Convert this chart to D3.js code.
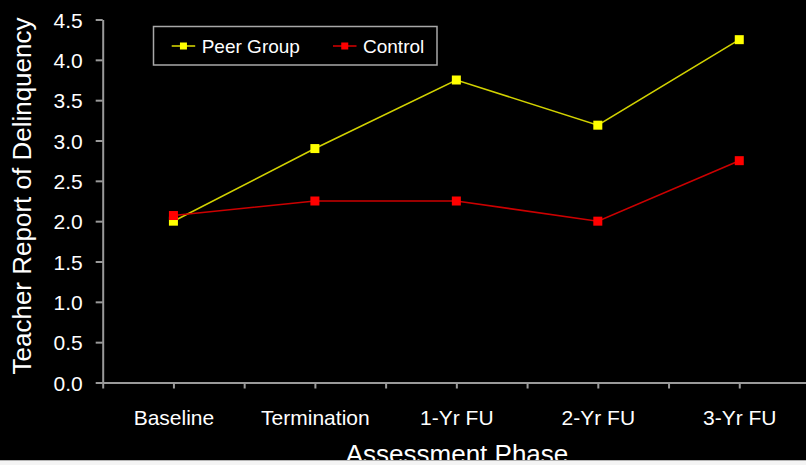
<!DOCTYPE html>
<html>
<head>
<meta charset="utf-8">
<script src="https://cdn.jsdelivr.net/npm/d3@7"></script>
<style>
  html, body { margin: 0; padding: 0; background: #000; }
  svg { display: block; font-family: Arial, "Liberation Sans", sans-serif; }
</style>
</head>
<body>
<svg id="chart"></svg>
<script>
const phases = ['Baseline', 'Termination', '1-Yr FU', '2-Yr FU', '3-Yr FU'];
const peerGroup = [2.0, 2.9, 3.75, 3.19, 4.25];
const control = [2.07, 2.25, 2.25, 2.0, 2.75];
const yTicks = [0, 0.5, 1, 1.5, 2, 2.5, 3, 3.5, 4, 4.5];
const seriesNames = ['Peer Group', 'Control'];

const width = 806, height = 465;
const margin = {top: 19.5, left: 102.7, bottom: 382.5, right: 810};

const svg = d3.select('#chart')
    .attr('width', width)
    .attr('height', height);

svg.append('rect')
    .attr('width', width)
    .attr('height', height)
    .attr('fill', '#000');

// x positions: index scale so ticks can sit at centres and between categories
const xScale = d3.scaleLinear()
    .domain([-0.5, phases.length - 0.5])
    .range([margin.left, margin.right]);

const yScale = d3.scaleLinear()
    .domain([0, 4.5])
    .range([margin.bottom, margin.top]);

const xTickVals = d3.range(-0.5, phases.length, 0.5);

const xAxisG = svg.append('g')
    .attr('transform', `translate(0,${margin.bottom})`)
    .call(d3.axisBottom(xScale)
      .tickValues(xTickVals)
      .tickSize(6)
      .tickSizeOuter(0)
      .tickFormat(d => Number.isInteger(d) ? phases[d] : ''));

xAxisG.selectAll('.domain, .tick line')
    .attr('stroke', '#9a9a9a')
    .attr('stroke-width', 2);
xAxisG.selectAll('.tick text')
    .attr('fill', '#fff')
    .attr('font-size', 21)
    .attr('y', 42.5)
    .attr('dy', 0);

const yAxisG = svg.append('g')
    .attr('transform', `translate(${margin.left},0)`)
    .call(d3.axisLeft(yScale)
      .tickValues(yTicks)
      .tickSize(7)
      .tickSizeOuter(0)
      .tickPadding(13)
      .tickFormat(d3.format('.1f')));

yAxisG.selectAll('.domain, .tick line')
    .attr('stroke', '#9a9a9a')
    .attr('stroke-width', 2);
yAxisG.selectAll('.tick text')
    .attr('fill', '#fff')
    .attr('font-size', 21)
    .attr('dy', '0.36em');

// axis titles
svg.append('text')
    .attr('x', 457)
    .attr('y', 462.5)
    .attr('text-anchor', 'middle')
    .attr('fill', '#fff')
    .attr('font-size', 26)
    .text('Assessment Phase');

svg.append('text')
    .attr('transform', 'translate(31,196) rotate(-90)')
    .attr('text-anchor', 'middle')
    .attr('fill', '#fff')
    .attr('font-size', 26)
    .text('Teacher Report of Delinquency');

// series
const series = [
  {name: seriesNames[0], values: peerGroup, line: '#d2d200', fill: '#ffff00'},
  {name: seriesNames[1], values: control, line: '#cc0000', fill: '#ff0000'}
];

const line = d3.line()
    .x((d, i) => xScale(i))
    .y(d => yScale(d));

const mk = 9;
series.forEach(s => {
  svg.append('path')
      .datum(s.values)
      .attr('d', line)
      .attr('fill', 'none')
      .attr('stroke', s.line)
      .attr('stroke-width', 1.6);
});
series.forEach(s => {
  svg.append('g').selectAll('rect')
      .data(s.values)
    .join('rect')
      .attr('x', (d, i) => xScale(i) - mk / 2)
      .attr('y', d => yScale(d) - mk / 2)
      .attr('width', mk)
      .attr('height', mk)
      .attr('fill', s.fill);
});

// legend
const legend = svg.append('g');
legend.append('rect')
    .attr('x', 153.5)
    .attr('y', 26.5)
    .attr('width', 283.5)
    .attr('height', 38.5)
    .attr('fill', '#000')
    .attr('stroke', '#a8a8a8')
    .attr('stroke-width', 1.5);

const legX = [171.7, 333];
series.forEach((s, i) => {
  const g = legend.append('g').attr('transform', `translate(${legX[i]},46)`);
  g.append('line')
      .attr('x1', 0).attr('x2', 23.5)
      .attr('stroke', s.line)
      .attr('stroke-width', 1.6);
  g.append('rect')
      .attr('x', 11.75 - 3.5).attr('y', -3.5)
      .attr('width', 7).attr('height', 7)
      .attr('fill', s.fill);
  g.append('text')
      .attr('x', 30)
      .attr('y', 7)
      .attr('fill', '#fff')
      .attr('font-size', 19)
      .text(s.name);
});

// bottom edge of the slide crop
svg.append('rect')
    .attr('x', 0).attr('y', 460.5)
    .attr('width', width).attr('height', height - 460.5)
    .attr('fill', '#f4f4f4');
svg.append('line')
    .attr('x1', 0).attr('x2', width)
    .attr('y1', 460.5).attr('y2', 460.5)
    .attr('stroke', '#b4b4b4')
    .attr('stroke-width', 1);
</script>
</body>
</html>
